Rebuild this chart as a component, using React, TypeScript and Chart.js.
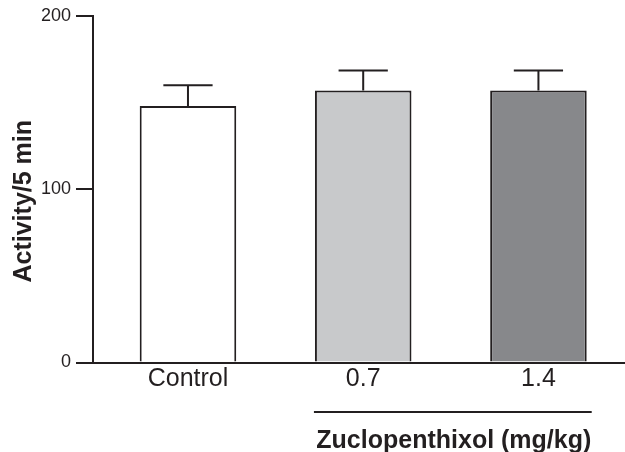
import React, { useEffect, useRef } from 'react';
import { Chart, registerables } from 'chart.js';

Chart.register(...registerables);

// ---- data ----
const categories = ['Control', '0.7', '1.4'];
const means = [148, 157, 157];
const sems = [12, 11.5, 11.5];
const yTickValues = [0, 100, 200];
const groupIndices = [1, 2];
const groupLabel = 'Zuclopenthixol (mg/kg)';
const yTitle = 'Activity/5 min';
const barFills = ['#ffffff', '#c8c9cb', '#87888b'];

const INK = '#231f20';
const FONT = '"Liberation Sans", Arial, Helvetica, sans-serif';

const errorBarPlugin = {
  id: 'errorBars',
  afterDatasetsDraw(chart: any) {
    const meta = chart.getDatasetMeta(0);
    const y = chart.scales.y;
    const ctx = chart.ctx;
    ctx.save();
    ctx.strokeStyle = INK;
    ctx.lineWidth = 2;
    meta.data.forEach((bar: any, i: number) => {
      const top = y.getPixelForValue(means[i] + sems[i]);
      const capHalf = bar.width * 0.255;
      ctx.beginPath();
      ctx.moveTo(bar.x, bar.y);
      ctx.lineTo(bar.x, top);
      ctx.moveTo(bar.x - capHalf, top);
      ctx.lineTo(bar.x + capHalf, top);
      ctx.stroke();
    });
    ctx.restore();
  },
};

const annotationPlugin = {
  id: 'annotations',
  afterDraw(chart: any) {
    const ctx = chart.ctx;
    const area = chart.chartArea;
    const meta = chart.getDatasetMeta(0);
    const first = meta.data[groupIndices[0]];
    const last = meta.data[groupIndices[groupIndices.length - 1]];
    const x0 = first.x - first.width / 2 - 1;
    const x1 = last.x + last.width / 2 + 5;
    const lineY = area.bottom + 49.5;
    ctx.save();
    ctx.strokeStyle = INK;
    ctx.lineWidth = 2;
    ctx.beginPath();
    ctx.moveTo(x0, lineY);
    ctx.lineTo(x1, lineY);
    ctx.stroke();
    ctx.fillStyle = INK;
    ctx.font = `bold 25px ${FONT}`;
    ctx.textAlign = 'center';
    ctx.textBaseline = 'alphabetic';
    ctx.fillText(groupLabel, (x0 + x1) / 2 + 1, area.bottom + 85);

    // y axis title
    const cy = (area.top + area.bottom) / 2 + 12;
    ctx.translate(31, cy);
    ctx.rotate(-Math.PI / 2);
    ctx.fillText(yTitle, 0, 0);
    ctx.restore();
  },
};

export default function App() {
  const ref = useRef<HTMLCanvasElement | null>(null);

  useEffect(() => {
    document.body.style.margin = '0';
    const canvas = ref.current;
    if (!canvas) return;
    const chart = new Chart(canvas, {
      type: 'bar',
      data: {
        datasets: [
          {
            data: categories.map((_, i) => ({ x: i, y: means[i] })),
            backgroundColor: barFills,
            borderColor: INK,
            borderWidth: 2,
            borderSkipped: 'start',
            barPercentage: 0.551,
            categoryPercentage: 1,
          },
        ],
      },
      options: {
        responsive: false,
        animation: false,
        devicePixelRatio: 1,
        layout: { padding: { top: 16, left: 0, right: 0, bottom: 0 } },
        plugins: {
          legend: { display: false },
          tooltip: { enabled: false },
        },
        scales: {
          x: {
            type: 'linear',
            offset: false,
            min: -0.542,
            max: 2.494,
            afterBuildTicks: (scale: any) => {
              scale.ticks = categories.map((_, i) => ({ value: i }));
            },
            afterFit: (scale: any) => {
              scale.height = 89.5;
            },
            grid: { display: false, drawTicks: false, offset: false },
            border: { display: true, color: INK, width: 2 },
            ticks: {
              padding: 2,
              color: INK,
              font: { family: FONT, size: 25 },
              callback: (v: any) => categories[v as number] ?? '',
            },
          },
          y: {
            min: 0,
            max: 200,
            afterBuildTicks: (scale: any) => {
              scale.ticks = yTickValues.map((v) => ({ value: v }));
            },
            afterFit: (scale: any) => {
              scale.width = 93;
            },
            grid: {
              display: true,
              drawOnChartArea: false,
              drawTicks: true,
              tickLength: 17,
              color: INK,
              lineWidth: 2,
            },
            border: { display: true, color: INK, width: 2 },
            ticks: {
              padding: 5,
              color: INK,
              font: { family: FONT, size: 18 },
            },
          },
        },
      },
      plugins: [errorBarPlugin, annotationPlugin],
    });
    return () => chart.destroy();
  }, []);

  return (
    <div style={{ width: 625, height: 452, background: '#ffffff' }}>
      <canvas ref={ref} width={625} height={452} />
    </div>
  );
}
